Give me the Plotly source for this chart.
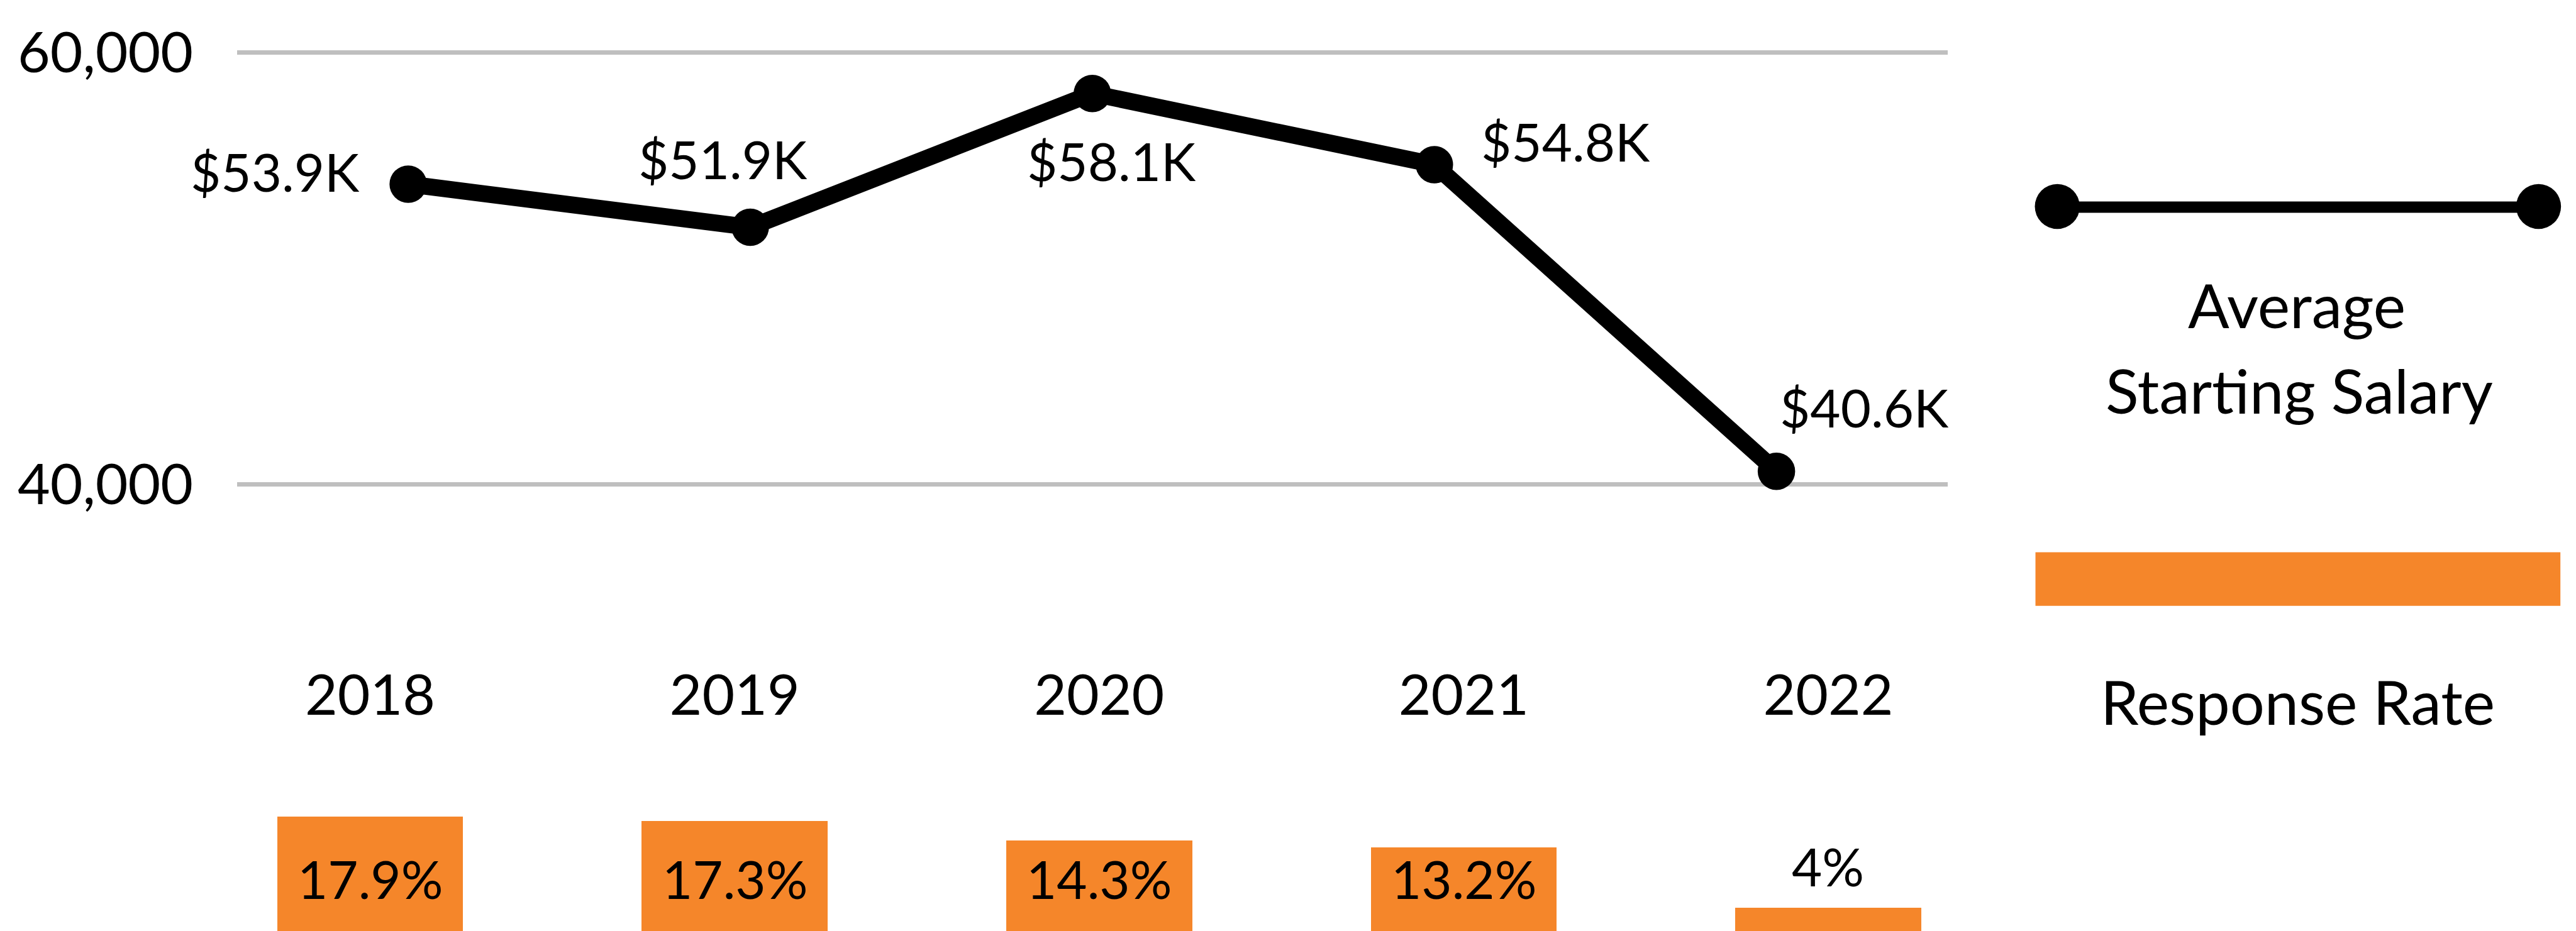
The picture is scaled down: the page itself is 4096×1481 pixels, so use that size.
import plotly.graph_objects as go

# ---------------- data ----------------
years = ["2018", "2019", "2020", "2021", "2022"]
salary = [53900, 51900, 58100, 54800, 40600]
salary_labels = ["$53.9K", "$51.9K", "$58.1K", "$54.8K", "$40.6K"]
response_rate = [17.9, 17.3, 14.3, 13.2, 4.0]
response_labels = ["17.9%", "17.3%", "14.3%", "13.2%", "4%"]
salary_ticks = [40000, 60000]
legend_line_name = ["Average", "Starting Salary"]
legend_bar_name = "Response Rate"

# ---------------- geometry helpers (reference pixel -> paper) ----------------
S = 0.992
RW, RH = 4127, 1492
W, H = 4096, 1481


def px(x):
    return x / RW


def py(y):
    return 1 - y / RH


FONT = "Lato"
BLACK = "#000000"
ORANGE = "#F5862A"
GRID = "#BFBFBF"

fig = go.Figure()

# salary line
fig.add_trace(go.Scatter(
    x=years, y=salary, mode="lines+markers",
    line=dict(color=BLACK, width=27 * S),
    marker=dict(color=BLACK, size=60 * S),
    xaxis="x", yaxis="y", cliponaxis=False,
    showlegend=False, hoverinfo="skip",
))

# response-rate bars
fig.add_trace(go.Bar(
    x=years, y=response_rate,
    marker=dict(color=ORANGE, line=dict(width=0)),
    width=0.51, xaxis="x2", yaxis="y2",
    showlegend=False, hoverinfo="skip",
))

annotations = []
# salary labels: (xanchor, xshift, yshift) in reference px
lab_pos = [("right", -76, 20), ("center", -44, 109), ("center", 31, -108),
           ("left", 73, 37), ("left", 3, 102)]
for i, (v, lab, (xa, xs, ys)) in enumerate(zip(salary, salary_labels, lab_pos)):
    annotations.append(dict(
        x=i, y=v, xref="x", yref="y", text=lab, showarrow=False,
        xanchor=xa, yanchor="middle", xshift=xs * S, yshift=ys * S,
        font=dict(family=FONT, size=84 * S, color=BLACK),
    ))

# response labels
for i, (v, lab) in enumerate(zip(response_rate, response_labels)):
    if v >= 8:
        annotations.append(dict(
            x=i, y=py(1408), xref="x2", yref="paper", text=lab, showarrow=False,
            xanchor="center", yanchor="middle",
            font=dict(family=FONT, size=84 * S, color=BLACK),
        ))
    else:
        annotations.append(dict(
            x=i, y=v, xref="x2", yref="y2", text=lab, showarrow=False,
            xanchor="center", yanchor="bottom", yshift=14 * S,
            font=dict(family=FONT, size=84 * S, color=BLACK),
        ))

# legend texts
annotations.append(dict(
    x=px(3680), y=py(488), xref="paper", yref="paper", text=legend_line_name[0],
    showarrow=False, xanchor="center", yanchor="middle",
    font=dict(family=FONT, size=98 * S, color=BLACK)))
annotations.append(dict(
    x=px(3684), y=py(625), xref="paper", yref="paper", text=legend_line_name[1],
    showarrow=False, xanchor="center", yanchor="middle",
    font=dict(family=FONT, size=98 * S, color=BLACK)))
annotations.append(dict(
    x=px(3681), y=py(1124), xref="paper", yref="paper", text=legend_bar_name,
    showarrow=False, xanchor="center", yanchor="middle",
    font=dict(family=FONT, size=98 * S, color=BLACK)))

shapes = [
    dict(type="line", xref="paper", yref="paper", x0=px(3296), x1=px(4067),
         y0=py(332), y1=py(332), line=dict(color=BLACK, width=18 * S)),
    dict(type="circle", xref="paper", yref="paper", x0=px(3296 - 36), x1=px(3296 + 36),
         y0=py(331 + 36), y1=py(331 - 36), fillcolor=BLACK, line=dict(width=0)),
    dict(type="circle", xref="paper", yref="paper", x0=px(4067 - 36), x1=px(4067 + 36),
         y0=py(331 + 36), y1=py(331 - 36), fillcolor=BLACK, line=dict(width=0)),
    dict(type="rect", xref="paper", yref="paper", x0=px(3261), x1=px(4102),
         y0=py(971), y1=py(885), fillcolor=ORANGE, line=dict(width=0)),
]


# y range so 60000 sits at ref y=84 and 40000 at ref y=776 within domain [10, 900]
def v_at(pyref):
    return 40000 + (776 - pyref) / 692 * 20000


fig.update_layout(
    width=W, height=H,
    margin=dict(l=0, r=0, t=0, b=0),
    paper_bgcolor="white", plot_bgcolor="white",
    font=dict(family=FONT, color=BLACK),
    showlegend=False,
    hovermode=False,
    xaxis=dict(domain=[px(380), px(3120)], range=[-0.5, 4.5], type="category",
               showgrid=False, zeroline=False, showticklabels=False, showline=False,
               ticks="", anchor="y"),
    yaxis=dict(domain=[py(900), py(10)], range=[v_at(900), v_at(10)],
               tickvals=salary_ticks, tickformat=",", showgrid=True,
               gridcolor=GRID, gridwidth=7 * S, zeroline=False, showline=False,
               ticks="", ticklabelstandoff=int(round(70 * S)),
               tickfont=dict(family=FONT, size=90 * S, color=BLACK), anchor="x"),
    xaxis2=dict(domain=[px(301), px(3221)], range=[-0.5, 4.5], type="category",
                side="top", anchor="y2", showgrid=False, zeroline=False,
                showline=False, ticks="", ticklabelstandoff=int(round(6 * S)),
                tickfont=dict(family=FONT, size=90 * S, color=BLACK)),
    yaxis2=dict(domain=[0, py(1170)], range=[(1497 - 1492) / 10.5, (1497 - 1170) / 10.5],
                visible=False, anchor="x2"),
    annotations=annotations,
    shapes=shapes,
    bargap=0,
)

fig.write_html(
    "out.html",
    config={"displayModeBar": False, "staticPlot": True},
    post_script="document.body.style.margin='0';document.body.style.overflow='hidden';",
)
